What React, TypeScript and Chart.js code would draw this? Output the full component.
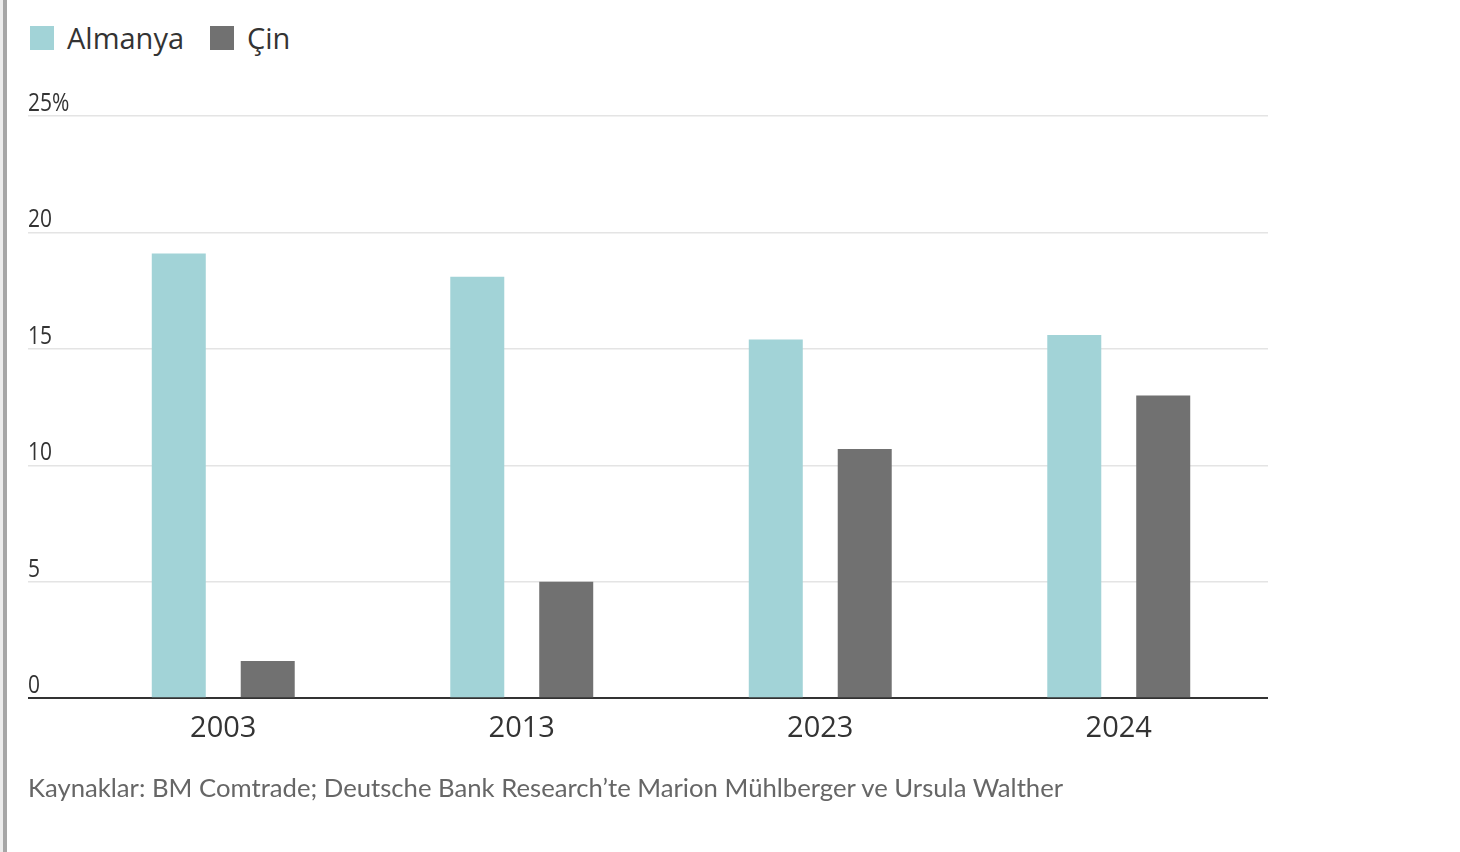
import React, { useEffect, useRef } from "react";
import { Chart, registerables } from "chart.js";

Chart.register(...registerables);

const categories = ["2003", "2013", "2023", "2024"];
const seriesNames = ["Almanya", "Çin"];
const almanyaValues = [19.1, 18.1, 15.4, 15.6];
const cinValues = [1.6, 5.0, 10.7, 13.0];
const yTickValues = [0, 5, 10, 15, 20, 25];
const yTickLabels = ["0", "5", "10", "15", "20", "25%"];
const sourceText =
  "Kaynaklar: BM Comtrade; Deutsche Bank Research’te Marion Mühlberger ve Ursula Walther";

const COLORS = ["#a2d3d7", "#717171"];

const yLabelPlugin = {
  id: "yLabelPlugin",
  afterDraw(chart: any) {
    const y = chart.scales.y;
    const ctx = chart.ctx;
    ctx.save();
    ctx.font = '25px "Open Sans", sans-serif';
    ctx.fillStyle = "#333333";
    ctx.textAlign = "left";
    ctx.textBaseline = "alphabetic";
    yTickValues.forEach((v, i) => {
      const py = y.getPixelForValue(v);
      ctx.save();
      ctx.translate(28, py - 5);
      ctx.scale(0.84, 1);
      ctx.fillText(yTickLabels[i], 0, 0);
      ctx.restore();
    });
    ctx.restore();
  },
};

export default function App() {
  const canvasRef = useRef<HTMLCanvasElement | null>(null);

  useEffect(() => {
    document.body.style.margin = "0";
    const canvas = canvasRef.current;
    if (!canvas) return;
    const chart = new Chart(canvas, {
      type: "bar",
      data: {
        labels: categories,
        datasets: [
          {
            label: seriesNames[0],
            data: almanyaValues,
            backgroundColor: COLORS[0],
            borderWidth: 0,
            categoryPercentage: 0.596,
            barPercentage: 0.607,
          },
          {
            label: seriesNames[1],
            data: cinValues,
            backgroundColor: COLORS[1],
            borderWidth: 0,
            categoryPercentage: 0.596,
            barPercentage: 0.607,
          },
        ],
      },
      options: {
        responsive: false,
        animation: false,
        devicePixelRatio: 1,
        layout: {
          padding: { left: 28, right: 192, top: 116, bottom: 93 },
        },
        plugins: {
          legend: { display: false },
          tooltip: { enabled: false },
          title: { display: false },
        },
        scales: {
          x: {
            grid: { display: false, drawTicks: false },
            border: { display: false },
            ticks: {
              color: "#333333",
              padding: 13,
              font: { family: '"Open Sans", sans-serif', size: 29 },
            },
          },
          y: {
            min: 0,
            max: 25,
            border: { display: false },
            ticks: { display: false, stepSize: 5 },
            grid: {
              drawTicks: true,
              tickLength: 46,
              color: (c: any) => (c.tick && c.tick.value === 0 ? "#333333" : "#e4e4e4"),
              lineWidth: (c: any) => (c.tick && c.tick.value === 0 ? 2 : 1.5),
            },
            afterFit: (scale: any) => {
              scale.width = 46;
            },
          },
        },
      },
      plugins: [yLabelPlugin],
    });
    return () => chart.destroy();
  }, []);

  const legendItem = (name: string, color: string, left: number) => (
    <div
      key={name}
      style={{
        position: "absolute",
        left,
        top: 23,
        display: "flex",
        alignItems: "center",
        height: 29,
      }}
    >
      <div style={{ width: 24, height: 24, background: color, marginRight: 13 }} />
      <span
        style={{
          fontFamily: '"Open Sans", sans-serif',
          fontSize: 29,
          lineHeight: "29px",
          color: "#333333",
        }}
      >
        {name}
      </span>
    </div>
  );

  return (
    <div style={{ position: "relative", width: 1460, height: 852, overflow: "hidden", background: "#fff" }}>
      <div style={{ position: "absolute", left: 0, top: 0, width: 3, height: 852, background: "#ececec" }} />
      <div style={{ position: "absolute", left: 3, top: 0, width: 4, height: 852, background: "#a6a6a6" }} />
      {legendItem(seriesNames[0], COLORS[0], 30)}
      {legendItem(seriesNames[1], COLORS[1], 210)}
      <canvas
        ref={canvasRef}
        width={1460}
        height={852}
        style={{ position: "absolute", left: 0, top: 0, width: 1460, height: 852 }}
      />
      <div
        style={{
          position: "absolute",
          left: 28,
          top: 772,
          fontFamily: "Lato, sans-serif",
          fontSize: 25.7,
          lineHeight: "30px",
          color: "#666666",
          whiteSpace: "nowrap",
        }}
      >
        {sourceText}
      </div>
    </div>
  );
}
